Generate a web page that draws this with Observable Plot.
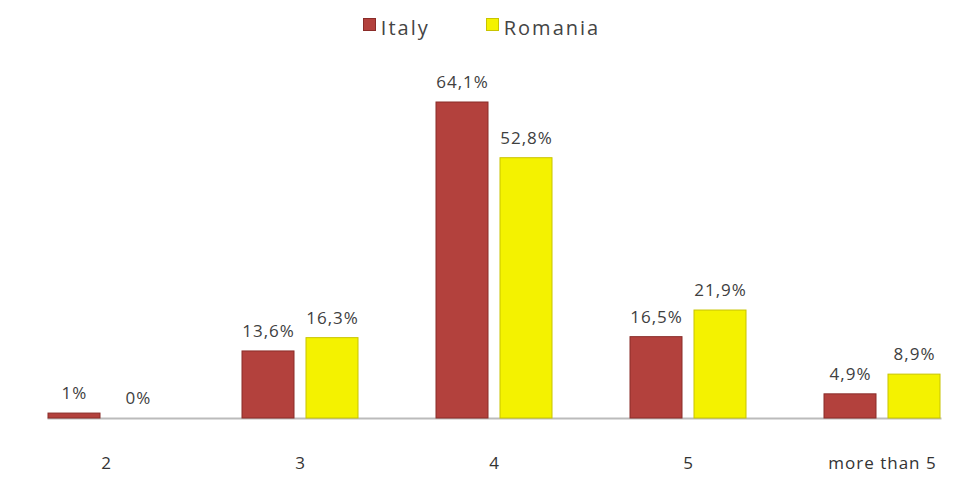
<!DOCTYPE html>
<html>
<head>
<meta charset="utf-8">
<script src="https://cdn.jsdelivr.net/npm/d3@7"></script>
<script src="https://cdn.jsdelivr.net/npm/@observablehq/plot@0.6"></script>
<style>
  body { margin: 0; background: #fff; font-family: "Open Sans", sans-serif; }
  #legend { height: 54px; display: flex; justify-content: center; align-items: center; gap: 56px; font-size: 20px; letter-spacing: 2px; color: #444; padding-left: 0px; box-sizing: border-box; }
  .sw { display: inline-block; width: 11px; height: 11px; margin-right: 5px; vertical-align: 4px; }
</style>
</head>
<body>
<div id="legend"></div>
<div id="chart"></div>
<script>
const categories = ["2", "3", "4", "5", "more than 5"];
const series = ["Italy", "Romania"];
const italy = [1, 13.6, 64.1, 16.5, 4.9];
const romania = [0, 16.3, 52.8, 21.9, 8.9];
const colors = ["#b3413d", "#f4f200"];
const strokes = ["#8a2c29", "#c8c400"];

const data = [];
categories.forEach((c, i) => {
  data.push({cat: c, series: "Italy", value: italy[i]});
  data.push({cat: c, series: "Romania", value: romania[i]});
});
const fmt = v => String(v).replace(".", ",") + "%";

const legend = document.getElementById("legend");
series.forEach((s, i) => {
  const span = document.createElement("span");
  span.innerHTML = `<span class="sw" style="background:${colors[i]};border:1px solid ${strokes[i]}"></span>${s}`;
  legend.appendChild(span);
});

let chart;
const baseOpts = {
  width: 963,
  height: 423,
  marginLeft: 14,
  marginRight: 3,
  marginTop: 20,
  marginBottom: 59,
  style: {fontFamily: "Open Sans, sans-serif", fontSize: "17px", color: "#333", letterSpacing: "1px"},
  fx: {domain: categories, range: [-30, 1018], paddingInner: 0.402, paddingOuter: 0.402, label: null, tickSize: 0, tickPadding: 38},
  x: {domain: series, paddingInner: 0.1875, paddingOuter: 0, axis: null},
  y: {domain: [0, 64.1], range: [364, 48], axis: null},
  color: {domain: series, range: colors}
};
const dataMarks = [
  Plot.barY(data, {fx: "cat", x: "series", y: "value", fill: "series", stroke: d => d.series === "Italy" ? strokes[0] : strokes[1], strokeWidth: 1}),
  Plot.text(data, {fx: "cat", x: "series", y: "value", text: d => fmt(d.value), dy: -20, fill: "#404040", fontSize: 17})
];
try {
  chart = Plot.plot({...baseOpts, marks: [Plot.frame({anchor: "bottom", stroke: "#bbb", strokeWidth: 2, facet: "super"}), ...dataMarks]});
} catch (e) {
  chart = Plot.plot({...baseOpts, marks: [Plot.ruleY([0], {stroke: "#bbb", strokeWidth: 2}), ...dataMarks]});
}
document.getElementById("chart").appendChild(chart);
</script>
</body>
</html>
